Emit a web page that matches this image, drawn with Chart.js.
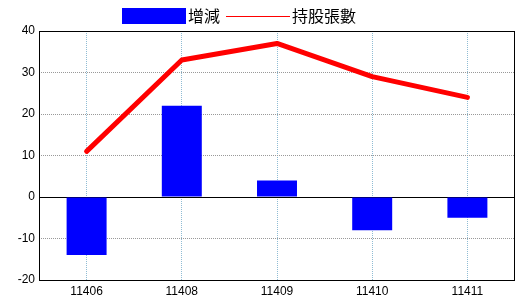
<!DOCTYPE html>
<html>
<head>
<meta charset="utf-8">
<style>
  html, body { margin: 0; padding: 0; background: #fff; }
  #wrap { width: 520px; height: 300px; }
</style>
<script src="https://cdn.jsdelivr.net/npm/chart.js@4"></script>
</head>
<body>
<div id="wrap"><canvas id="holdChart" width="520" height="300"></canvas></div>
<script>
// data
const months = ['11406', '11408', '11409', '11410', '11411'];
const change = [-14, 22, 4, -8, -5];      // 增減
const shares = [11, 33, 37, 29, 24];      // 持股張數
const yTicks = [-20, -10, 0, 10, 20, 30, 40];

Chart.defaults.font.family = '"Liberation Sans", Arial, sans-serif';
Chart.defaults.font.size = 12;
Chart.defaults.color = '#000';

// frame round the plot and the solid zero line
const framePlugin = {
    id: 'frame',
    beforeDatasetsDraw(chart) {
        const { ctx, chartArea: a, scales } = chart;
        const y0 = Math.round(scales.y.getPixelForValue(0)) + 0.5;
        ctx.save();
        ctx.strokeStyle = '#000';
        ctx.lineWidth = 1;
        ctx.setLineDash([]);
        ctx.strokeRect(Math.round(a.left) + 0.5, Math.round(a.top) + 0.5,
            Math.round(a.right - a.left) - 1, Math.round(a.bottom - a.top));
        ctx.beginPath();
        ctx.moveTo(a.left, y0);
        ctx.lineTo(a.right, y0);
        ctx.stroke();
        ctx.restore();
    }
};

// legend drawn like the original (wide blue box, long red line)
const legendPlugin = {
    id: 'oldLegend',
    afterDraw(chart) {
        const ctx = chart.ctx;
        const bars = chart.data.datasets.find(d => d.type !== 'line');
        const line = chart.data.datasets.find(d => d.type === 'line');
        ctx.save();
        ctx.font = '16px "Noto Sans CJK TC", sans-serif';
        ctx.textBaseline = 'middle';
        ctx.fillStyle = bars.backgroundColor;
        ctx.fillRect(122, 8, 64, 16);
        ctx.fillStyle = '#000';
        ctx.fillText(bars.label, 188, 16);
        ctx.strokeStyle = line.borderColor;
        ctx.lineWidth = 1;
        ctx.beginPath();
        ctx.moveTo(226, 16.5);
        ctx.lineTo(290, 16.5);
        ctx.stroke();
        ctx.fillText(line.label, 292, 16);
        ctx.restore();
    }
};

const ctx = document.getElementById('holdChart').getContext('2d');
new Chart(ctx, {
    type: 'bar',
    data: {
        labels: months,
        datasets: [{
            type: 'line',
            label: '持股張數',
            data: shares,
            borderColor: '#ff0000',
            backgroundColor: '#ff0000',
            borderWidth: 5,
            borderCapStyle: 'round',
            borderJoinStyle: 'round',
            pointRadius: 0,
            tension: 0,
            order: 1
        }, {
            label: '增減',
            data: change,
            backgroundColor: '#0000ff',
            borderWidth: 0,
            categoryPercentage: 1,
            barPercentage: 0.42,
            order: 2
        }]
    },
    options: {
        responsive: false,
        animation: false,
        layout: { padding: { top: 31, right: 5, left: 0, bottom: 0 } },
        plugins: {
            legend: { display: false },
            tooltip: { enabled: false }
        },
        scales: {
            x: {
                offset: true,
                grid: {
                    offset: false,
                    color: '#8fbcd4',
                    drawTicks: false
                },
                border: { display: false, dash: [1, 1] },
                ticks: { padding: 4, maxRotation: 0 },
                afterFit(scale) { scale.height = 20; }
            },
            y: {
                min: yTicks[0],
                max: yTicks[yTicks.length - 1],
                afterBuildTicks(scale) {
                    scale.ticks = yTicks.map(v => ({ value: v }));
                },
                grid: {
                    color: c => (c.tick && (c.tick.value === 0 || c.tick.value === yTicks[0] ||
                        c.tick.value === yTicks[yTicks.length - 1])) ? 'rgba(0,0,0,0)' : '#999999',
                    drawTicks: false
                },
                border: { display: false, dash: [1, 1] },
                ticks: { padding: 4 },
                afterFit(scale) { scale.width = 39; }
            }
        }
    },
    plugins: [framePlugin, legendPlugin]
});
</script>
</body>
</html>
